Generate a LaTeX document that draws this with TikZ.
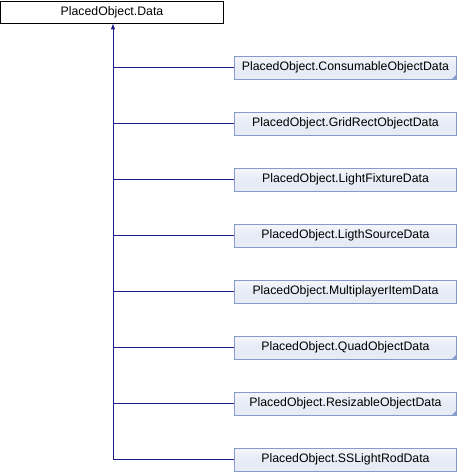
\documentclass[tikz,border=0pt]{standalone}
\usepackage{fontspec}
\setmainfont{Liberation Sans}
\usetikzlibrary{arrows}
\tikzset{>=latex}

\definecolor{edgeblue}{HTML}{1A1A8C}
\definecolor{boxline}{HTML}{869ACB}
\definecolor{boxfill}{HTML}{E6EBF5}
\definecolor{cornerfill}{HTML}{8CA0CC}

\tikzset{
	baseclass/.style={draw=black, fill=white, line width=0.9pt,
		minimum width=223pt, minimum height=22pt, inner sep=0pt,
		font=\fontsize{12.3}{14}\selectfont},
	derived/.style={draw=boxline, line width=0.9pt,
		top color=boxfill!45, bottom color=boxfill, middle color=boxfill,
		minimum width=222pt, minimum height=23pt, inner sep=0pt,
		font=\fontsize{12.3}{14}\selectfont},
	link/.style={draw=edgeblue, line width=1pt}
}

\begin{document}
\begin{tikzpicture}[x=1pt, y=-1pt]
		\useasboundingbox (0,0) rectangle (458,472);
		\pgfmathsetmacro{\cx}{345.5}
		\pgfmathsetmacro{\dy}{56}

		% the base class
		\node[baseclass] (data) at (112,12) {PlacedObject.Data};

		% the derived classes
		\node[derived] (consumable) at (\cx,67.5) {PlacedObject.ConsumableObjectData};
		\node[derived] (gridrect)   at (\cx,67.5+\dy) {PlacedObject.GridRectObjectData};
		\node[derived] (fixture)    at (\cx,67.5+2*\dy) {PlacedObject.LightFixtureData};
		\node[derived] (source)     at (\cx,67.5+3*\dy) {PlacedObject.LigthSourceData};
		\node[derived] (multiplayer) at (\cx,67.5+4*\dy) {PlacedObject.MultiplayerItemData};
		\node[derived] (quad)       at (\cx,67.5+5*\dy) {PlacedObject.QuadObjectData};
		\node[derived] (resizable)  at (\cx,67.5+6*\dy) {PlacedObject.ResizableObjectData};
		\node[derived] (ssrod)      at (\cx,67.5+7*\dy) {PlacedObject.SSLightRodData};

		% corner marks
		\foreach \n in {consumable, quad, resizable}
			\fill[cornerfill] (\n.south east) +(-0.5,-0.5) -- +(-5,-0.5) -- +(-0.5,-5) -- cycle;

		% the trunk
		\coordinate (trunk) at ([xshift=1pt]data.south |- ssrod.west);
		\draw[link, <-] ([xshift=1pt]data.south) -- (trunk);

		% the branches
		\foreach \n in {consumable, gridrect, fixture, source, multiplayer, quad, resizable, ssrod}
			\draw[link] (\n.west) -- (\n.west -| trunk);
	\end{tikzpicture}
\end{document}
